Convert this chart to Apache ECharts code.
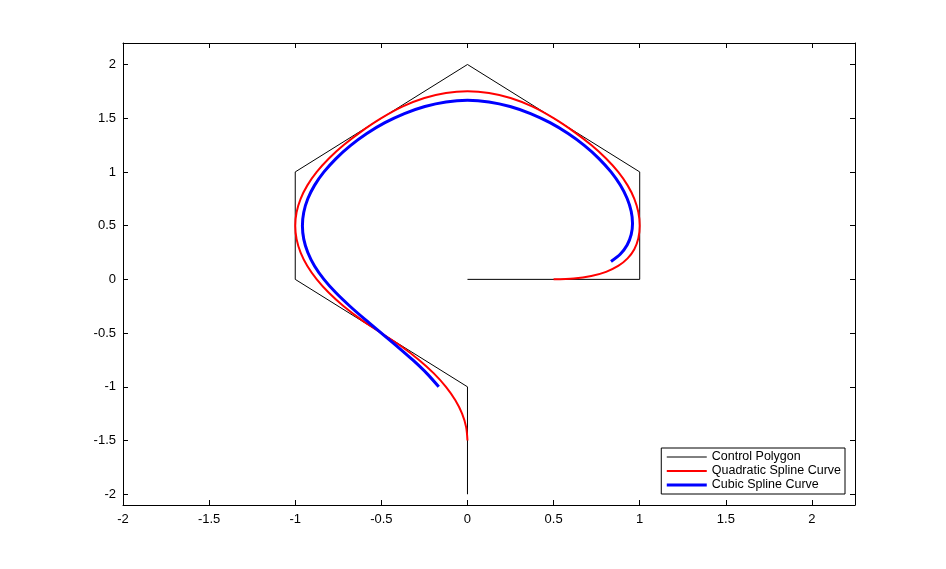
<!DOCTYPE html>
<html>
<head>
<meta charset="utf-8">
<script src="https://cdn.jsdelivr.net/npm/echarts@6/dist/echarts.min.js"></script>
<style>html,body{margin:0;padding:0;background:#fff}#c{width:946px;height:569px}</style>
</head>
<body>
<div id="c"></div>
<script>
// Control polygon vertices
var controlPolygon = [[0,0],[1,0],[1,1],[0,2],[-1,1],[-1,0],[0,-1],[0,-2]];
// Quadratic spline curve points
var quadraticCurve = [
  [0.5,0],[0.6172,0.0078],[0.71875,0.03125],[0.8047,0.0703],[0.875,0.125],[0.9297,0.1953],[0.96875,0.28125],[0.9922,0.3828],
  [1,0.5],[0.9922,0.625],[0.96875,0.75],[0.9297,0.875],[0.875,1.0],[0.8047,1.125],[0.71875,1.25],[0.6172,1.375],
  [0.5,1.5],[0.375,1.6094],[0.25,1.6875],[0.125,1.7344],[0,1.75],[-0.125,1.7344],[-0.25,1.6875],[-0.375,1.6094],
  [-0.5,1.5],[-0.6172,1.375],[-0.71875,1.25],[-0.8047,1.125],[-0.875,1.0],[-0.9297,0.875],[-0.96875,0.75],[-0.9922,0.625],
  [-1,0.5],[-0.9922,0.375],[-0.96875,0.25],[-0.9297,0.125],[-0.875,0],[-0.8047,-0.125],[-0.71875,-0.25],[-0.6172,-0.375],
  [-0.5,-0.5],[-0.3828,-0.625],[-0.28125,-0.75],[-0.1953,-0.875],[-0.125,-1.0],[-0.0703,-1.125],[-0.03125,-1.25],[-0.0078,-1.375],[0,-1.5]
];
// Cubic spline curve points
var cubicCurve = [
  [0.8333,0.1667],[0.8880,0.2367],[0.9271,0.3203],[0.9505,0.4157],[0.9583,0.5208],[0.9505,0.6338],[0.9271,0.7526],[0.8880,0.8753],
  [0.8333,1.0],[0.7633,1.1244],[0.6797,1.2448],[0.5843,1.3574],[0.4792,1.4583],[0.3662,1.5436],[0.2474,1.6094],[0.1247,1.6517],
  [0,1.6667],[-0.1247,1.6517],[-0.2474,1.6094],[-0.3662,1.5436],[-0.4792,1.4583],[-0.5843,1.3574],[-0.6797,1.2448],[-0.7633,1.1244],
  [-0.8333,1.0],[-0.8880,0.875],[-0.9271,0.75],[-0.9505,0.625],[-0.9583,0.5],[-0.9505,0.375],[-0.9271,0.25],[-0.8880,0.125],
  [-0.8333,0],[-0.7637,-0.125],[-0.6823,-0.25],[-0.5931,-0.375],[-0.5,-0.5],[-0.4069,-0.625],[-0.3177,-0.75],[-0.2363,-0.875],[-0.1667,-1.0]
];
var seriesNames = ['Control Polygon','Quadratic Spline Curve','Cubic Spline Curve'];
var seriesColors = ['#000000','#ff0000','#0000ff'];
var seriesWidths = [1, 2, 3];
var xRange = [-2, 2.25];
var yRange = [-2.1, 2.2];

var font = 'Liberation Sans, Arial, sans-serif';
function fmt(v){ return Math.abs(v*2 - Math.round(v*2)) < 1e-9 ? String(v) : ''; }
var axLine = {show:true, onZero:false, lineStyle:{color:'#000', width:1}};
var tick = {show:true, inside:true, length:5, lineStyle:{color:'#000'}};
var chart = echarts.init(document.getElementById('c'), null, {renderer:'canvas'});
chart.setOption({
  animation:false,
  backgroundColor:'#fff',
  grid:{left:123, right:91, top:43, bottom:64, containLabel:false},
  xAxis:[
    {type:'value', position:'bottom', min:xRange[0], max:xRange[1], interval:0.5,
     axisLine:axLine, axisTick:tick, splitLine:{show:false},
     axisLabel:{color:'#000', fontSize:13, fontFamily:font, margin:8, formatter:fmt, showMaxLabel:false}},
    {type:'value', position:'top', min:xRange[0], max:xRange[1], interval:0.5,
     axisLine:axLine, axisTick:tick, splitLine:{show:false}, axisLabel:{show:false}}
  ],
  yAxis:[
    {type:'value', position:'left', min:yRange[0], max:yRange[1], splitNumber:8,
     axisLine:axLine, axisTick:tick, splitLine:{show:false},
     axisLabel:{color:'#000', fontSize:13, fontFamily:font, margin:7, formatter:fmt, showMinLabel:false, showMaxLabel:false}},
    {type:'value', position:'right', min:yRange[0], max:yRange[1], splitNumber:8,
     axisLine:axLine, axisTick:tick, splitLine:{show:false}, axisLabel:{show:false}}
  ],
  legend:{
    orient:'vertical', right:101, bottom:75,
    itemWidth:40, itemHeight:10, itemGap:0,
    backgroundColor:'#fff', borderColor:'#000', borderWidth:1, borderRadius:0,
    padding:[2,4,2,4],
    itemStyle:{opacity:0},
    textStyle:{color:'#000', fontSize:12.5, fontFamily:font, lineHeight:14},
    data:seriesNames.map(function(n,i){
      return {name:n, itemStyle:{opacity:0}, lineStyle:{width:seriesWidths[i], color:seriesColors[i], opacity:1}};
    })
  },
  series:[
    {name:seriesNames[0], type:'line', data:controlPolygon, showSymbol:false, symbol:'none',
     lineStyle:{color:seriesColors[0], width:seriesWidths[0]}, itemStyle:{color:seriesColors[0]}, z:2},
    {name:seriesNames[1], type:'line', data:quadraticCurve, smooth:0.3, showSymbol:false, symbol:'none',
     lineStyle:{color:seriesColors[1], width:seriesWidths[1]}, itemStyle:{color:seriesColors[1]}, z:3},
    {name:seriesNames[2], type:'line', data:cubicCurve, smooth:0.3, showSymbol:false, symbol:'none',
     lineStyle:{color:seriesColors[2], width:seriesWidths[2]}, itemStyle:{color:seriesColors[2]}, z:4}
  ]
});
</script>
</body>
</html>
